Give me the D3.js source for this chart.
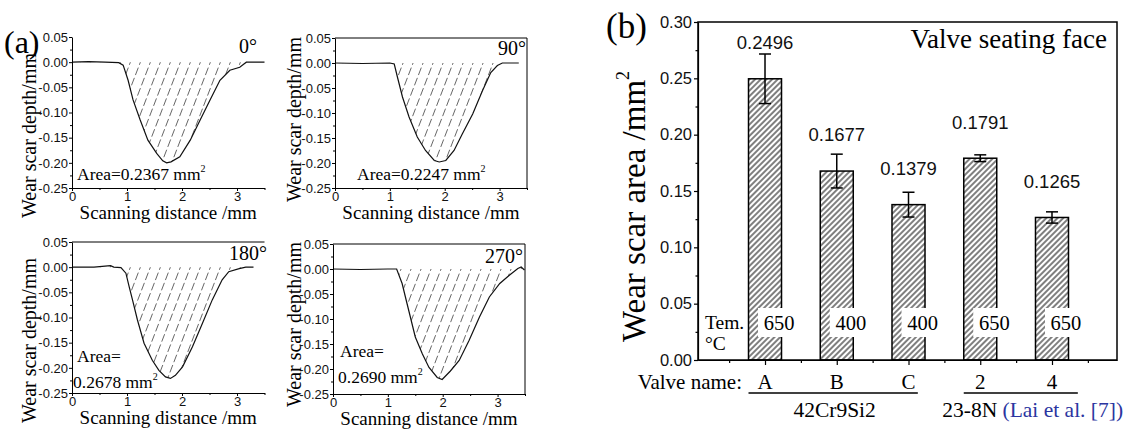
<!DOCTYPE html>
<html>
<head>
<meta charset="utf-8">
<script src="https://cdn.jsdelivr.net/npm/d3@7"></script>
<style>
  body { margin: 0; background: #fff; }
  svg { display: block; }
  .serif { font-family: "Liberation Serif", "Times New Roman", serif; }
  .sans { font-family: "Liberation Sans", Arial, sans-serif; }
</style>
</head>
<body>
<svg id="fig" width="1128" height="429"></svg>
<script>
// ---------- panel (a): wear scar depth profiles ----------
const profileAngles = ["0°", "90°", "180°", "270°"];
const profileAreas = ["0.2367", "0.2247", "0.2678", "0.2690"];

const dist0 = [0, 0.3, 0.6, 0.85, 0.93, 1.02, 1.11, 1.24, 1.38, 1.54, 1.65, 1.72, 1.8, 1.96, 2.15, 2.33, 2.51, 2.69, 2.87, 3.05, 3.12, 3.17, 3.3, 3.5];
const depth0 = [0, 0.001, 0, -0.001, -0.006, -0.036, -0.075, -0.115, -0.155, -0.181, -0.196, -0.2, -0.198, -0.188, -0.155, -0.115, -0.075, -0.036, -0.016, -0.01, -0.004, 0, 0, 0];

const dist90 = [0, 0.5, 1.0, 1.08, 1.14, 1.23, 1.35, 1.5, 1.65, 1.81, 1.9, 2.02, 2.17, 2.32, 2.51, 2.69, 2.84, 2.96, 3.05, 3.2, 3.35];
const depth90 = [0, -0.001, 0, -0.002, -0.029, -0.068, -0.108, -0.148, -0.175, -0.195, -0.198, -0.195, -0.175, -0.142, -0.102, -0.055, -0.019, -0.005, 0, 0, 0];

const dist180 = [0, 0.4, 0.7, 0.76, 0.89, 0.98, 1.04, 1.1, 1.19, 1.31, 1.46, 1.58, 1.7, 1.79, 1.88, 2.01, 2.19, 2.37, 2.55, 2.73, 2.85, 3.04, 3.16, 3.3];
const depth180 = [0, 0, 0.003, 0, -0.001, -0.012, -0.039, -0.065, -0.105, -0.151, -0.185, -0.205, -0.218, -0.221, -0.215, -0.198, -0.158, -0.112, -0.065, -0.025, -0.009, -0.003, 0, 0];

const dist270 = [0, 0.5, 1.0, 1.16, 1.26, 1.32, 1.41, 1.5, 1.63, 1.75, 1.9, 1.99, 2.14, 2.3, 2.48, 2.67, 2.85, 3.04, 3.22, 3.37, 3.43, 3.49];
const depth270 = [0, -0.001, 0, 0, -0.029, -0.056, -0.096, -0.136, -0.17, -0.197, -0.217, -0.221, -0.204, -0.183, -0.143, -0.096, -0.056, -0.029, -0.012, 0.001, 0.004, -0.002];

const depthTicks = [0.05, 0, -0.05, -0.1, -0.15, -0.2, -0.25];
const distTicks = [0, 1, 2, 3];

// ---------- panel (b): wear scar area ----------
const valveNames = ["A", "B", "C", "2", "4"];
const wearArea = [0.2496, 0.1677, 0.1379, 0.1791, 0.1265];
const wearErr = [0.022, 0.015, 0.011, 0.003, 0.005];
const testTemp = ["650", "400", "400", "650", "650"];
const areaTicks = [0, 0.05, 0.1, 0.15, 0.2, 0.25, 0.3];
const alloyNames = ["42Cr9Si2", "23-8N"];

const svg = d3.select("#fig");
const defs = svg.append("defs");

// dense hatch for the bars
const barHatch = defs.append("pattern")
  .attr("id", "barHatch")
  .attr("patternUnits", "userSpaceOnUse")
  .attr("width", 4).attr("height", 4)
  .attr("patternTransform", "rotate(45)");
barHatch.append("rect").attr("width", 4).attr("height", 4).attr("fill", "#fff");
barHatch.append("line")
  .attr("x1", 2).attr("y1", 0).attr("x2", 2).attr("y2", 4)
  .attr("stroke", "#000").attr("stroke-width", 1);

const fmt2 = d => d.toFixed(2);

// layout of the four profile plots
const profiles = [
  { xs: dist0, ys: depth0, l: 72, r: 264.5, t: 37, b: 188, top: false, right: false, ylab: [36, 218],
    ang: [257, 53], area: [[77, 180, "Area=", true]] },
  { xs: dist90, ys: depth90, l: 335, r: 527, t: 38, b: 188, top: true, right: true, ylab: [301, 202],
    ang: [526, 55], area: [[357, 180, "Area=", true]] },
  { xs: dist180, ys: depth180, l: 72, r: 264.5, t: 242, b: 393, top: true, right: false, ylab: [36, 423],
    ang: [267, 260], area: [[77, 362, "Area=", false], [73, 388, "", true]] },
  { xs: dist270, ys: depth270, l: 333, r: 525, t: 244, b: 394, top: true, right: true, ylab: [301, 407],
    ang: [523, 263], area: [[340, 357, "Area=", false], [338, 383, "", true]] }
];

profiles.forEach((p, i) => {
  const g = svg.append("g");
  const x = d3.scaleLinear().domain([0, 3.5]).range([p.l, p.r]);
  const y = d3.scaleLinear().domain([-0.25, 0.05]).range([p.b, p.t]);
  const pts = p.xs.map((v, k) => [v, p.ys[k]]);

  // hatched scar region
  const areaGen = d3.area().x(d => x(d[0])).y0(y(0)).y1(d => y(d[1]));
  defs.append("clipPath").attr("id", "scar" + i)
    .append("path").attr("d", areaGen(pts));
  const hg = g.append("g").attr("clip-path", `url(#scar${i})`);
  const h = p.b - p.t;
  for (let k = -10; k < 30; k++) {
    const xs = p.l + k * 10;
    hg.append("line")
      .attr("x1", xs).attr("y1", p.b)
      .attr("x2", xs + h / 2.6).attr("y2", p.t)
      .attr("stroke", "#555").attr("stroke-width", 0.9)
      .attr("stroke-dasharray", "8,3");
  }

  g.append("path")
    .attr("d", d3.line().x(d => x(d[0])).y(d => y(d[1]))(pts))
    .attr("fill", "none").attr("stroke", "#111").attr("stroke-width", 1.2);

  // frame
  if (p.top) g.append("line").attr("x1", p.l).attr("x2", p.r).attr("y1", p.t).attr("y2", p.t).attr("stroke", "#000");
  if (p.right) g.append("line").attr("x1", p.r).attr("x2", p.r).attr("y1", p.t).attr("y2", p.b).attr("stroke", "#000");

  // titles first, so tick labels sit on top
  g.append("text").attr("class", "serif")
    .attr("transform", `translate(${p.ylab[0]},${p.ylab[1]}) rotate(-90)`)
    .style("font-size", "20px").text("Wear scar depth/mm");
  g.append("text").attr("class", "serif")
    .attr("x", (p.l + p.r) / 2).attr("y", p.b + 31)
    .attr("text-anchor", "middle").style("font-size", "19px")
    .text("Scanning distance /mm");
  g.append("text").attr("class", "serif")
    .attr("x", p.ang[0]).attr("y", p.ang[1])
    .attr("text-anchor", "end").style("font-size", "20px")
    .text(profileAngles[i]);
  p.area.forEach(([ax, ay, prefix, withVal]) => {
    const t = g.append("text").attr("class", "serif")
      .attr("x", ax).attr("y", ay).style("font-size", "17.5px");
    if (withVal) {
      t.text(prefix + profileAreas[i] + " mm");
      t.append("tspan").attr("dy", -8).style("font-size", "10px").text("2");
    } else {
      t.text(prefix);
    }
  });

  const yAxis = g.append("g").attr("transform", `translate(${p.l},0)`)
    .call(d3.axisLeft(y).tickValues(depthTicks).tickSize(3).tickSizeOuter(0).tickFormat(fmt2));
  g.append("g").attr("transform", `translate(${p.l},0)`)
    .call(d3.axisLeft(y).tickValues(d3.range(-0.225, 0.05, 0.05)).tickSize(2).tickSizeOuter(0).tickFormat(""))
    .call(a => a.select(".domain").remove());
  const xAxis = g.append("g").attr("transform", `translate(0,${p.b})`)
    .call(d3.axisBottom(x).tickValues(distTicks).tickSize(3).tickSizeOuter(0).tickFormat(d3.format("d")));
  g.append("g").attr("transform", `translate(0,${p.b})`)
    .call(d3.axisBottom(x).tickValues([0.5, 1.5, 2.5, 3.5]).tickSize(2).tickSizeOuter(0).tickFormat(""))
    .call(a => a.select(".domain").remove());
  [yAxis, xAxis].forEach(a => {
    a.selectAll("text").attr("class", "sans").style("font-size", "13px").attr("fill", "#111");
    a.selectAll("line, path").attr("stroke", "#000");
  });
  yAxis.selectAll("text").attr("x", -4);
  xAxis.selectAll("text").attr("y", 4);
});

svg.append("text").attr("class", "serif")
  .attr("x", 4).attr("y", 53).style("font-size", "32px").text("(a)");

// ---------- panel (b) ----------
const bx = d3.scaleLinear().domain([0.066, 5.906]).range([698, 1117]);
const by = d3.scaleLinear().domain([0, 0.3]).range([360, 22]);
const barW = 0.46;
const gb = svg.append("g");

svg.append("text").attr("class", "serif")
  .attr("x", 606).attr("y", 38).style("font-size", "35px").text("(b)");

const bars = valveNames.map((n, i) => ({ name: n, pos: i + 1, v: wearArea[i], e: wearErr[i], t: testTemp[i] }));

gb.selectAll("rect.bar").data(bars).join("rect")
  .attr("class", "bar")
  .attr("x", d => bx(d.pos - barW / 2))
  .attr("width", d => bx(d.pos + barW / 2) - bx(d.pos - barW / 2))
  .attr("y", d => by(d.v))
  .attr("height", d => by(0) - by(d.v))
  .attr("fill", "url(#barHatch)")
  .attr("stroke", "#000").attr("stroke-width", 1.5);

// error bars
const eb = gb.selectAll("g.err").data(bars).join("g").attr("class", "err");
eb.append("line")
  .attr("x1", d => bx(d.pos)).attr("x2", d => bx(d.pos))
  .attr("y1", d => by(d.v - d.e)).attr("y2", d => by(d.v + d.e));
eb.append("line")
  .attr("x1", d => bx(d.pos) - 6).attr("x2", d => bx(d.pos) + 6)
  .attr("y1", d => by(d.v + d.e)).attr("y2", d => by(d.v + d.e));
eb.append("line")
  .attr("x1", d => bx(d.pos) - 6).attr("x2", d => bx(d.pos) + 6)
  .attr("y1", d => by(d.v - d.e)).attr("y2", d => by(d.v - d.e));
eb.selectAll("line").attr("stroke", "#000").attr("stroke-width", 1.5);

// value labels
gb.selectAll("text.val").data(bars).join("text")
  .attr("class", "val sans")
  .attr("x", d => bx(d.pos)).attr("y", d => by(d.v + 0.032))
  .attr("dy", "0.35em").attr("text-anchor", "middle")
  .style("font-size", "18.5px").attr("fill", "#111")
  .text(d => d.v.toFixed(4));

// temperature labels with white boxes
const tg = gb.selectAll("g.temp").data(bars).join("g").attr("class", "temp");
tg.append("rect")
  .attr("x", d => bx(d.pos) - 7).attr("y", 308)
  .attr("width", 37).attr("height", 29).attr("fill", "#fff");
tg.append("text").attr("class", "serif")
  .attr("x", d => bx(d.pos) + 14).attr("y", 330)
  .attr("text-anchor", "middle").style("font-size", "20.5px")
  .text(d => d.t);
gb.append("text").attr("class", "serif").attr("x", 705).attr("y", 329)
  .style("font-size", "19.5px").text("Tem.");
gb.append("text").attr("class", "serif").attr("x", 705).attr("y", 350)
  .style("font-size", "19.5px").text("°C");

// frame and axes
gb.append("rect")
  .attr("x", bx.range()[0]).attr("y", by.range()[1])
  .attr("width", bx.range()[1] - bx.range()[0])
  .attr("height", by.range()[0] - by.range()[1])
  .attr("fill", "none").attr("stroke", "#000").attr("stroke-width", 1.5);

const yAx = gb.append("g").attr("transform", "translate(698,0)")
  .call(d3.axisLeft(by).tickValues(areaTicks).tickSize(4).tickSizeOuter(0).tickFormat(fmt2));
gb.append("g").attr("transform", "translate(698,0)")
  .call(d3.axisLeft(by).tickValues(d3.range(0.025, 0.3, 0.05)).tickSize(2.5).tickFormat(""))
  .call(a => a.select(".domain").remove());
gb.append("g").attr("transform", "translate(0,360)")
  .call(d3.axisBottom(bx).tickValues([1, 2, 3, 4, 5]).tickSize(5).tickSizeOuter(0).tickFormat(""));
gb.append("g").attr("transform", "translate(0,360)")
  .call(d3.axisBottom(bx).tickValues([0.5, 1.5, 2.5, 3.5, 4.5, 5.5]).tickSize(3).tickSizeOuter(0).tickFormat(""))
  .call(a => a.select(".domain").remove());
yAx.selectAll("text").attr("class", "sans").style("font-size", "16.5px").attr("fill", "#111").attr("x", -6);
gb.selectAll(".tick line, .domain").attr("stroke", "#000").attr("stroke-width", 1.2);

gb.append("text").attr("class", "serif")
  .attr("transform", "translate(645,342) rotate(-90)")
  .style("font-size", "33px")
  .text("Wear scar area /mm")
  .append("tspan").attr("dy", -16).style("font-size", "18px").text("2");

gb.append("text").attr("class", "serif")
  .attr("x", 1107).attr("y", 48).attr("text-anchor", "end")
  .style("font-size", "27px").text("Valve seating face");

// category names under the axis
gb.append("text").attr("class", "serif")
  .attr("x", 742).attr("y", 389).attr("text-anchor", "end")
  .style("font-size", "21px").text("Valve name:");
gb.selectAll("text.cat").data(bars).join("text")
  .attr("class", "cat serif")
  .attr("x", d => bx(d.pos)).attr("y", 389)
  .attr("text-anchor", "middle").style("font-size", "21px")
  .text(d => d.name);

// alloy groups
const groupSpan = [[0.77, 3.13], [3.77, 5.36]];
groupSpan.forEach(([a, b]) => {
  gb.append("line")
    .attr("x1", bx(a)).attr("x2", bx(b)).attr("y1", 393).attr("y2", 393)
    .attr("stroke", "#000").attr("stroke-width", 1.5);
});
gb.append("text").attr("class", "serif")
  .attr("x", bx(1.97)).attr("y", 417).attr("text-anchor", "middle")
  .style("font-size", "21.5px").text(alloyNames[0]);
const g2 = gb.append("text").attr("class", "serif")
  .attr("x", bx(3.47)).attr("y", 417)
  .style("font-size", "21.5px").text(alloyNames[1] + " ");
g2.append("tspan").attr("fill", "#2b35a0").text("(Lai et al. [7])");
</script>
</body>
</html>
